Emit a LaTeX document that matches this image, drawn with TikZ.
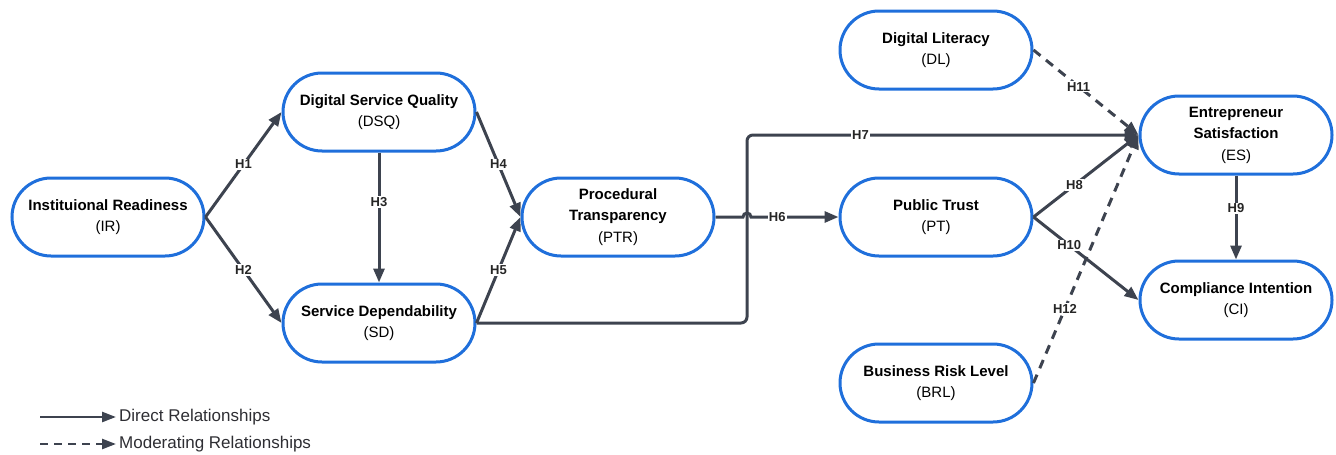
\documentclass[tikz,border=0pt]{standalone}
\usepackage{fontspec}
\setmainfont{Liberation Sans}
\usetikzlibrary{arrows.meta}
\definecolor{nodeblue}{HTML}{1F6FDB}
\definecolor{edgegray}{HTML}{3D434F}
\definecolor{legtext}{HTML}{2E2E33}
\begin{document}
\begin{tikzpicture}[x={(1pt,0)},y={(0,-1pt)},
  box/.style={draw=nodeblue,line width=3pt,fill=white,rounded corners=39pt,
    minimum width=192pt,minimum height=78pt,align=center,inner sep=2pt,
    font=\fontsize{15}{21.5}\selectfont},
  rel/.style={draw=edgegray,line width=3pt,-{Triangle[length=14pt,width=11pt]}},
  modrel/.style={rel,dash pattern=on 9pt off 7pt},
  lab/.style={fill=white,inner sep=1pt,font=\fontsize{13}{15}\selectfont\bfseries,text=black!85}]
\useasboundingbox (0,0) rectangle (1336,455);
% nodes
\node[box] (IR)  at (108,217) {\textbf{Instituional Readiness}\\(IR)};
\node[box] (DSQ) at (379,112) {\textbf{Digital Service Quality}\\(DSQ)};
\node[box] (SD)  at (379,323) {\textbf{Service Dependability}\\(SD)};
\node[box] (PTR) at (618,217) {\textbf{Procedural}\\\textbf{Transparency}\\(PTR)};
\node[box] (PT)  at (936,217) {\textbf{Public Trust}\\(PT)};
\node[box] (DL)  at (936,50)  {\textbf{Digital Literacy}\\(DL)};
\node[box] (BRL) at (936,383) {\textbf{Business Risk Level}\\(BRL)};
\node[box] (ES)  at (1236,135) {\textbf{Entrepreneur}\\\textbf{Satisfaction}\\(ES)};
\node[box] (CI)  at (1236,300) {\textbf{Compliance Intention}\\(CI)};
% helper coordinates
\coordinate (jx) at (747,135);
\coordinate (jc) at (747,217);
% edges
\draw[rel] (IR.east) -- node[lab]{H1} (DSQ.west);
\draw[rel] (IR.east) -- node[lab]{H2} (SD.west);
\draw[rel] (DSQ.south) -- node[lab,pos=0.38]{H3} (SD.north);
\draw[rel] (DSQ.east) -- node[lab]{H4} (PTR.west);
\draw[rel] (SD.east) -- node[lab]{H5} (PTR.west);
\draw[rel,rounded corners=6pt] (SD.east) -| (jx) -- (ES.west);
\path (jx) -- node[lab,pos=0.29]{H7} (ES.west);
\draw[rel] (PTR.east) -- ([xshift=-4pt]jc) arc[start angle=180,end angle=0,radius=4pt] -- node[lab,pos=0.3]{H6} (PT.west);
\draw[rel] (PT.east) -- node[lab,pos=0.39]{H8} (ES.west);
\draw[rel] (PT.east) -- node[lab,pos=0.34]{H10} (CI.west);
\draw[rel] (ES.south) -- node[lab,pos=0.39]{H9} (CI.north);
\draw[modrel] (DL.east) -- node[lab,pos=0.43]{H11} (ES.west);
\draw[modrel] (BRL.east) -- node[lab,pos=0.3]{H12} (ES.west);
% legend
\coordinate (l1a) at (40,417);
\coordinate (l1b) at (116,417);
\coordinate (l2a) at (40,444);
\coordinate (l2b) at (116,444);
\draw[rel,line width=2.5pt,-{Triangle[length=14pt,width=10pt]}] (l1a) -- (l1b);
\draw[modrel,line width=2.5pt,dash pattern=on 8pt off 6pt,-{Triangle[length=14pt,width=10pt]}] (l2a) -- (l2b);
\node[anchor=west,inner sep=0pt,text=legtext,font=\fontsize{17}{19}\selectfont] (t1) at (119,417) {Direct Relationships};
\node[anchor=west,inner sep=0pt,text=legtext,font=\fontsize{17}{19}\selectfont] (t2) at (119,444) {Moderating Relationships};
\end{tikzpicture}
\end{document}
